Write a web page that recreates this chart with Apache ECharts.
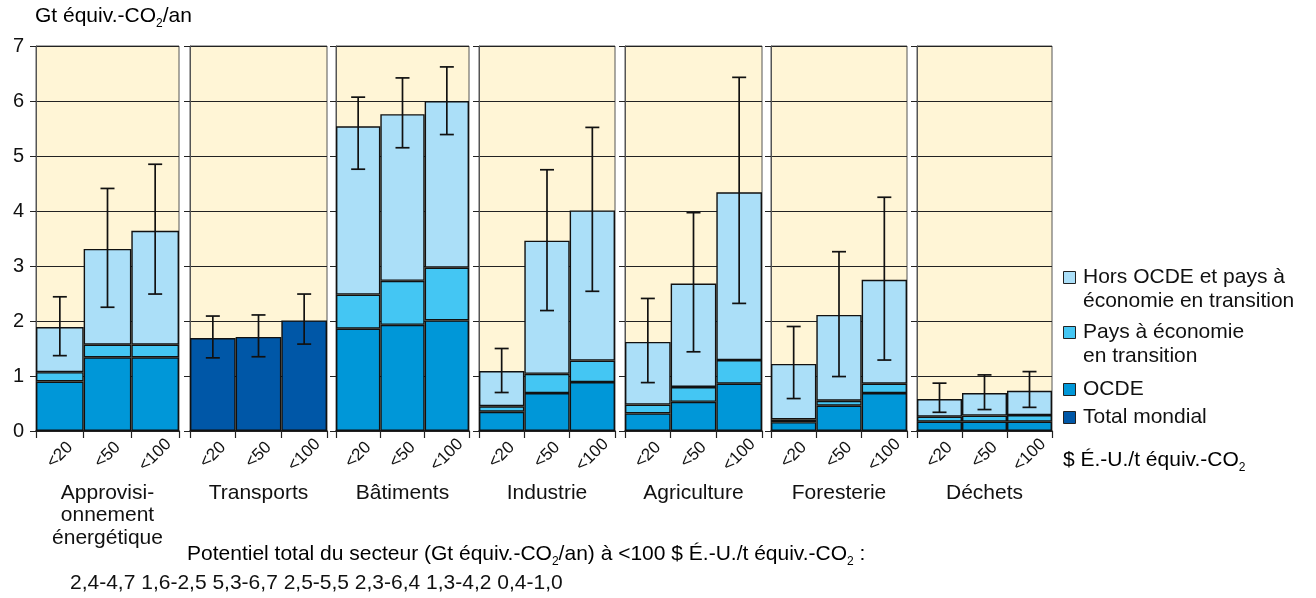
<!DOCTYPE html>
<html><head><meta charset="utf-8">
<script src="https://cdn.jsdelivr.net/npm/echarts@6/dist/echarts.min.js"></script>
<style>html,body{margin:0;padding:0;background:#fff}#c{width:1316px;height:598px}</style>
</head><body><div id="c"></div>
<script>
// ---- data ----
const sectors = ['Approvisi-\nonnement\nénergétique','Transports','Bâtiments','Industrie','Agriculture','Foresterie','Déchets'];
const prices = ['<20','<50','<100'];
// stacked segments (Gt équiv.-CO2/an)
const ocde       = [[0.90,1.34,1.34], null, [1.86,1.93,2.01], [0.35,0.69,0.89], [0.32,0.53,0.86], [0.16,0.46,0.69], [0.17,0.17,0.17]];
const transition = [[0.17,0.23,0.23], null, [0.62,0.80,0.96], [0.10,0.35,0.39], [0.16,0.27,0.43], [0.05,0.09,0.17], [0.09,0.11,0.12]];
const horsOcde   = [[0.82,1.74,2.07], null, [3.06,3.03,3.03], [0.64,2.42,2.73], [1.14,1.88,3.05], [1.01,1.56,1.89], [0.32,0.41,0.44]];
const totalMondial = [null, [1.69,1.71,2.01], null, null, null, null, null];
const errLow  = [[1.37,2.25,2.49],[1.33,1.35,1.58],[4.76,5.15,5.39],[0.70,2.19,2.54],[0.88,1.44,2.32],[0.59,0.99,1.29],[0.34,0.39,0.43]];
const errHigh = [[2.44,4.41,4.85],[2.09,2.11,2.49],[6.07,6.42,6.62],[1.50,4.75,5.52],[2.41,3.97,6.43],[1.90,3.26,4.25],[0.87,1.02,1.08]];
const yTicks = [0,1,2,3,4,5,6,7];
const sectorTotals = '2,4-4,7 1,6-2,5 5,3-6,7 2,5-5,5 2,3-6,4 1,3-4,2 0,4-1,0';

// ---- style ----
const FONT = '"Liberation Sans", Arial, Helvetica, sans-serif';
const C_HORS = '#abdff8', C_TRANS = '#44c6f3', C_OCDE = '#0097d8', C_TOTAL = '#0057a7', C_BG = '#fff5d6';
const lefts  = [36, 190, 336, 479, 625, 771, 917];
const widths = [143, 137, 133, 136, 137, 136, 135];
const TOP = 46, H = 385;

const grids = [], xAxes = [], yAxes = [], series = [];
const barStyle = c => ({color: c, borderColor: '#111', borderWidth: 1.4});
for (let i = 0; i < 7; i++) {
  grids.push({left: lefts[i], top: TOP, width: widths[i], height: H, show: true,
    backgroundColor: C_BG, borderColor: '#555', borderWidth: 1});
  xAxes.push({type: 'category', gridIndex: i, data: prices,
    axisLine: {lineStyle: {color: '#222', width: 1.5}},
    axisTick: {show: true, length: 7, lineStyle: {color: '#222', width: 1.2}},
    axisLabel: {rotate: 45, fontSize: 17, fontFamily: FONT, color: '#111', margin: 24,
      align: 'center', verticalAlign: 'middle'},
    name: sectors[i], nameLocation: 'middle', nameGap: 41,
    nameTextStyle: {fontSize: 21, fontFamily: FONT, color: '#111', lineHeight: 22.5, verticalAlign: 'top'}});
  yAxes.push({type: 'value', gridIndex: i, min: yTicks[0], max: yTicks[yTicks.length-1], interval: 1,
    axisLine: {show: true, lineStyle: {color: '#555', width: 1}},
    axisTick: {show: true, length: 6, lineStyle: {color: '#222'}},
    axisLabel: {show: i === 0, fontSize: 20, fontFamily: FONT, color: '#111', margin: 12},
    splitLine: {show: true, lineStyle: {color: '#222', width: 1}}});
  if (totalMondial[i]) {
    series.push({name: 'Total mondial', type: 'bar', xAxisIndex: i, yAxisIndex: i, stack: 's'+i,
      barCategoryGap: '0%', data: totalMondial[i], itemStyle: barStyle(C_TOTAL)});
  } else {
    series.push({name: 'OCDE', type: 'bar', xAxisIndex: i, yAxisIndex: i, stack: 's'+i,
      barCategoryGap: '0%', data: ocde[i], itemStyle: barStyle(C_OCDE)});
    series.push({name: 'Pays à économie en transition', type: 'bar', xAxisIndex: i, yAxisIndex: i, stack: 's'+i,
      barCategoryGap: '0%', data: transition[i], itemStyle: barStyle(C_TRANS)});
    series.push({name: 'Hors OCDE', type: 'bar', xAxisIndex: i, yAxisIndex: i, stack: 's'+i,
      barCategoryGap: '0%', data: horsOcde[i], itemStyle: barStyle(C_HORS)});
  }
  series.push({type: 'custom', xAxisIndex: i, yAxisIndex: i, z: 10,
    data: prices.map((p, k) => [k, errLow[i][k], errHigh[i][k]]),
    renderItem: (params, api) => {
      const lo = api.coord([api.value(0), api.value(1)]);
      const hi = api.coord([api.value(0), api.value(2)]);
      const x = hi[0], hw = 7;
      const st = {stroke: '#111', lineWidth: 1.7};
      return {type: 'group', children: [
        {type: 'line', shape: {x1: x, y1: hi[1], x2: x, y2: lo[1]}, style: st},
        {type: 'line', shape: {x1: x-hw, y1: hi[1], x2: x+hw, y2: hi[1]}, style: st},
        {type: 'line', shape: {x1: x-hw, y1: lo[1], x2: x+hw, y2: lo[1]}, style: st}
      ]};
    }});
}

const rich = {
  a: {fontSize: 21, fontFamily: FONT, color: '#111'},
  s: {fontSize: 12, fontFamily: FONT, color: '#111', padding: [15, 0, 0, 0]}
};
const legendItems = [
  {c: C_HORS, y: 271, t: 'Hors OCDE et pays à\néconomie en transition'},
  {c: C_TRANS, y: 326, t: 'Pays à économie\nen transition'},
  {c: C_OCDE, y: 383, t: 'OCDE'},
  {c: C_TOTAL, y: 411, t: 'Total mondial'}
];
const graphics = [];
legendItems.forEach(it => {
  graphics.push({type: 'rect', left: 1063, top: it.y, shape: {width: 12, height: 12},
    style: {fill: it.c, stroke: '#222', lineWidth: 1}});
  graphics.push({type: 'text', left: 1083, top: it.y - 6,
    style: {text: it.t, fontSize: 21, fontFamily: FONT, fill: '#111', lineHeight: 24}});
});
graphics.push({type: 'text', left: 1063, top: 450,
  style: {text: '{a|$ É.-U./t équiv.-CO}{s|2}', rich}});
graphics.push({type: 'text', left: 35, top: 6,
  style: {text: '{a|Gt équiv.-CO}{s|2}{a|/an}', rich}});
graphics.push({type: 'text', left: 187, top: 544,
  style: {text: '{a|Potentiel total du secteur (Gt équiv.-CO}{s|2}{a|/an) à <100 $ É.-U./t équiv.-CO}{s|2}{a| :}', rich}});
graphics.push({type: 'text', left: 70, top: 573,
  style: {text: sectorTotals, fontSize: 21, fontFamily: FONT, fill: '#111'}});

const chart = echarts.init(document.getElementById('c'), null, {renderer: 'canvas'});
chart.setOption({
  animation: false,
  backgroundColor: '#fff',
  grid: grids, xAxis: xAxes, yAxis: yAxes, series,
  graphic: graphics
});
</script></body></html>
